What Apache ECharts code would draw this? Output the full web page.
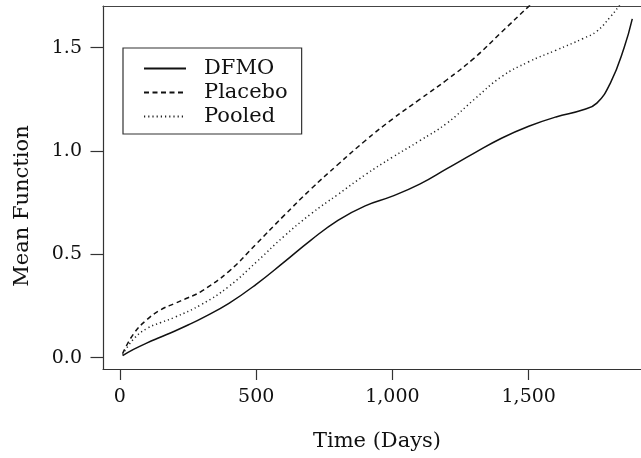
<!DOCTYPE html>
<html>
<head>
<meta charset="utf-8">
<script src="https://cdn.jsdelivr.net/npm/echarts@6/dist/echarts.min.js"></script>
<style>
html,body{margin:0;padding:0;background:#fff;}
#chart{width:641px;height:458px;}
</style>
</head>
<body>
<div id="chart"></div>
<script>
// ---- data ----
const seriesNames = ['DFMO', 'Placebo', 'Pooled'];

const dfmoDays = [10, 50, 100, 150, 200, 250, 300, 400, 500, 600, 700, 800, 900, 1000, 1100, 1200, 1300, 1400, 1500, 1600, 1700, 1750, 1800, 1850, 1880];
const dfmoMean = [0.01, 0.04, 0.072, 0.10, 0.128, 0.158, 0.19, 0.263, 0.355, 0.46, 0.568, 0.665, 0.735, 0.782, 0.84, 0.915, 0.99, 1.062, 1.12, 1.165, 1.20, 1.232, 1.33, 1.50, 1.64];

const placeboDays = [10, 50, 100, 150, 200, 250, 300, 400, 500, 600, 700, 800, 900, 1000, 1100, 1200, 1300, 1400, 1500, 1550];
const placeboMean = [0.02, 0.115, 0.185, 0.232, 0.262, 0.29, 0.322, 0.418, 0.55, 0.685, 0.815, 0.935, 1.05, 1.155, 1.25, 1.345, 1.45, 1.575, 1.70, 1.76];

const pooledDays = [10, 50, 100, 150, 200, 300, 400, 500, 600, 700, 800, 900, 1000, 1100, 1200, 1300, 1400, 1500, 1600, 1700, 1750, 1800, 1830, 1850];
const pooledMean = [0.015, 0.09, 0.142, 0.17, 0.195, 0.258, 0.345, 0.462, 0.585, 0.695, 0.79, 0.885, 0.97, 1.05, 1.135, 1.25, 1.36, 1.432, 1.488, 1.545, 1.58, 1.65, 1.70, 1.74];

const xTicks = [0, 500, 1000, 1500];
const yTicks = [0, 0.5, 1.0, 1.5];
const xTitle = 'Time (Days)';
const yTitle = 'Mean Function';

// ---- chart ----
const zip = (a, b) => a.map((v, i) => [v, b[i]]);
const FONT = 'DejaVu Serif';
const fmtThousands = v => String(v).replace(/\B(?=(\d{3})+(?!\d))/g, ',');

const chart = echarts.init(document.getElementById('chart'), null, {renderer: 'canvas'});

const lineStyles = [
  {color: '#111', width: 1.5, type: 'solid'},
  {color: '#111', width: 1.5, type: [5, 3.5]},
  {color: '#222', width: 1.5, type: [1.2, 3]}
];
const seriesData = [zip(dfmoDays, dfmoMean), zip(placeboDays, placeboMean), zip(pooledDays, pooledMean)];

chart.setOption({
  animation: false,
  backgroundColor: '#fff',
  grid: {left: 103, top: 6, right: 0, bottom: 89, containLabel: false},
  xAxis: [{
    type: 'value', min: -62, max: 1912,
    axisLine: {show: true, onZero: false, lineStyle: {color: '#333', width: 1.2}},
    axisTick: {show: true, length: 11, customValues: xTicks, lineStyle: {color: '#333', width: 1.2}},
    axisLabel: {customValues: xTicks, margin: 19, color: '#111', fontFamily: FONT, fontSize: 19, formatter: fmtThousands},
    splitLine: {show: false}
  }, {
    type: 'value', min: -62, max: 1912, position: 'top',
    axisLine: {show: true, onZero: false, lineStyle: {color: '#444', width: 1.2}},
    axisTick: {show: false}, axisLabel: {show: false}, splitLine: {show: false}
  }],
  yAxis: {
    type: 'value', min: -0.0547, max: 1.702,
    axisLine: {show: true, onZero: false, lineStyle: {color: '#333', width: 1.2}},
    axisTick: {show: true, length: 12.5, customValues: yTicks, lineStyle: {color: '#333', width: 1.2}},
    axisLabel: {customValues: yTicks, margin: 21, color: '#111', fontFamily: FONT, fontSize: 19, formatter: v => v.toFixed(1)},
    splitLine: {show: false}
  },
  legend: {
    orient: 'vertical', left: 123, top: 48,
    data: seriesNames,
    itemWidth: 42, itemHeight: 20, itemGap: 3,
    padding: [10, 14, 7, 20],
    borderColor: '#333', borderWidth: 1.2,
    itemStyle: {color: 'rgba(0,0,0,0)', borderColor: 'rgba(0,0,0,0)', borderWidth: 0, opacity: 0},
    textStyle: {fontFamily: FONT, fontSize: 21, color: '#111', padding: [0, 0, 0, 13]}
  },
  graphic: [
    {type: 'text', x: 23, y: 206, rotation: Math.PI / 2,
     style: {text: yTitle, font: '21px "DejaVu Serif"', fill: '#111', textAlign: 'center', textVerticalAlign: 'middle'}},
    {type: 'text', x: 377, y: 442,
     style: {text: xTitle, font: '21px "DejaVu Serif"', fill: '#111', textAlign: 'center', textVerticalAlign: 'middle'}}
  ],
  series: seriesNames.map((name, i) => ({
    name, type: 'line', data: seriesData[i],
    xAxisIndex: 0, yAxisIndex: 0,
    showSymbol: false, symbol: 'none',
    smooth: 0.45, clip: true,
    lineStyle: lineStyles[i], itemStyle: {color: lineStyles[i].color}
  }))
});
</script>
</body>
</html>
